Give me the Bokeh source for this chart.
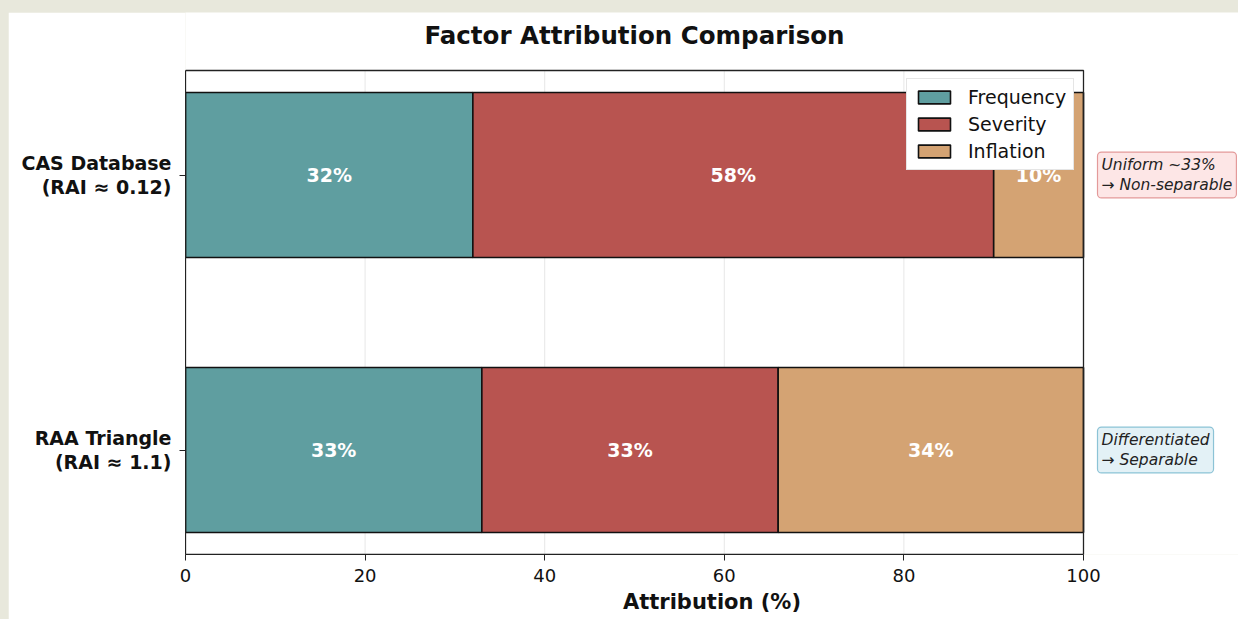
import numpy as np
from bokeh.plotting import figure
from bokeh.models import Range1d, FixedTicker, Label, Legend, LegendItem, ColumnDataSource
from bokeh.core.properties import value
from bokeh.embed import file_html
from bokeh.resources import INLINE

# ---- data ----
title_text = "Factor Attribution Comparison"
datasets = ["RAA Triangle\n(RAI \u2248 1.1)", "CAS Database\n(RAI \u2248 0.12)"]
factors = ["Frequency", "Severity", "Inflation"]
frequency = [33, 32]
severity = [33, 58]
inflation = [34, 10]
colors = ["#5f9ea0", "#b85450", "#d4a373"]
x_ticks = [0, 20, 40, 60, 80, 100]
notes = ["Differentiated\n\u2192 Separable", "Uniform ~33%\n\u2192 Non-separable"]
note_fill = ["#e3f1f6", "#fde6e6"]
note_line = ["#8cc3d6", "#e39a9a"]

FONT = "DejaVu Sans"

# ---- layout geometry ----
W, H = 1230, 607
BL, BR, BB = 177, 0, 65          # borders (left / right / bottom)
X_MAX = 100.0
Y_LO, Y_HI = -0.38, 1.38
AX_W_PX = 898                    # px spanned by 0..100
AX_H_PX = 484                    # px spanned by Y_LO..Y_HI
frame_w = W - BL - BR
frame_h = H - BB
x_end = X_MAX * frame_w / AX_W_PX
y_end = Y_LO + (Y_HI - Y_LO) * frame_h / AX_H_PX

p = figure(width=W, height=H, output_backend="svg", toolbar_location=None,
           x_range=Range1d(0, x_end), y_range=Range1d(Y_LO, y_end),
           min_border_left=BL, min_border_right=BR, min_border_top=0, min_border_bottom=BB)
p.margin = (4, 0, 0, 0)
p.background_fill_color = "white"
p.border_fill_color = "white"
p.outline_line_color = None
p.xgrid.grid_line_color = None
p.ygrid.grid_line_color = None

# vertical grid lines (only inside the axes box)
p.segment(x0=x_ticks, x1=x_ticks, y0=[Y_LO] * len(x_ticks), y1=[Y_HI] * len(x_ticks),
          line_color="#dddddd", line_alpha=0.7, line_width=1)

ypos = np.arange(len(datasets))
series = [frequency, severity, inflation]
left = np.zeros(len(datasets))
items = []
for name, vals, col in zip(factors, series, colors):
    vals = np.array(vals, dtype=float)
    src = ColumnDataSource(dict(y=ypos, left=left, right=left + vals,
                                mid=left + vals / 2,
                                lab=[f"{int(v)}%" for v in vals]))
    r = p.hbar(y="y", left="left", right="right", height=0.6, source=src,
               fill_color=col, line_color="#111111", line_width=1.6)
    p.text(x="mid", y="y", text="lab", source=src, text_color="white",
           text_font=value(FONT), text_font_size="19px", text_font_style="bold",
           text_align="center", text_baseline="middle")
    items.append(LegendItem(label=name, renderers=[r]))
    left = left + vals

# axes box
p.quad(left=[0], right=[X_MAX], bottom=[Y_LO], top=[Y_HI], fill_color=None,
       line_color="#222222", line_width=1.3)

# title
p.add_layout(Label(x=X_MAX / 2, y=Y_HI, y_offset=35, text=title_text, text_font=FONT,
                   text_font_size="24.5px", text_font_style="bold", text_color="#111111",
                   text_align="center", text_baseline="middle"))

legend = Legend(items=items, location=(721, 384))
legend.label_text_font = FONT
legend.label_text_font_size = "19px"
legend.label_text_color = "#111111"
legend.glyph_width = 40
legend.glyph_height = 16
legend.spacing = 5
legend.padding = 7
legend.margin = 0
legend.label_standoff = 14
legend.border_line_color = "#cccccc"
legend.border_line_width = 1
legend.background_fill_alpha = 1.0
p.add_layout(legend, "center")

# axes
p.xaxis.ticker = FixedTicker(ticks=x_ticks)
p.xaxis.bounds = (0, X_MAX)
p.yaxis.ticker = FixedTicker(ticks=list(ypos))
p.yaxis.bounds = (Y_LO, Y_HI)
p.yaxis.major_label_overrides = {int(i): d for i, d in zip(ypos, datasets)}
p.xaxis.axis_label = "Attribution (%)"
for ax in (p.xaxis, p.yaxis):
    ax.axis_line_color = "#222222"
    ax.major_tick_line_color = "#222222"
    ax.major_tick_out = 6
    ax.major_tick_in = 0
    ax.minor_tick_line_color = None
    ax.major_label_text_font = FONT
    ax.major_label_text_font_size = "18px"
    ax.major_label_text_color = "#111111"
p.xaxis.axis_label_text_font = FONT
p.xaxis.axis_label_text_font_size = "21px"
p.xaxis.axis_label_text_font_style = "bold"
p.xaxis.axis_label_text_color = "#111111"
p.xaxis.axis_label_standoff = 5
p.xaxis.major_label_standoff = 8
p.yaxis.major_label_text_font_size = "19px"
p.yaxis.major_label_text_font_style = "bold"
p.yaxis.major_label_text_line_height = 1.1
p.yaxis.major_label_standoff = 8

for yi, txt, fc, lc in zip(ypos, notes, note_fill, note_line):
    lab = Label(x=X_MAX, y=float(yi), x_offset=14, text=txt, text_font=FONT,
                text_font_size="15.5px", text_font_style="italic", text_color="#222222",
                text_baseline="middle", text_align="left", text_line_height=1.1,
                background_fill_color=fc, border_line_color=lc, border_line_width=1.2,
                padding=4, border_radius=4)
    p.add_layout(lab)

html = file_html(p, INLINE)
html = html.replace("</head>", "<style>html,body{background:#e8e8dc;margin:0;} body{margin:8px 0 0 8px;}</style></head>", 1)
open("out.html", "w").write(html)
